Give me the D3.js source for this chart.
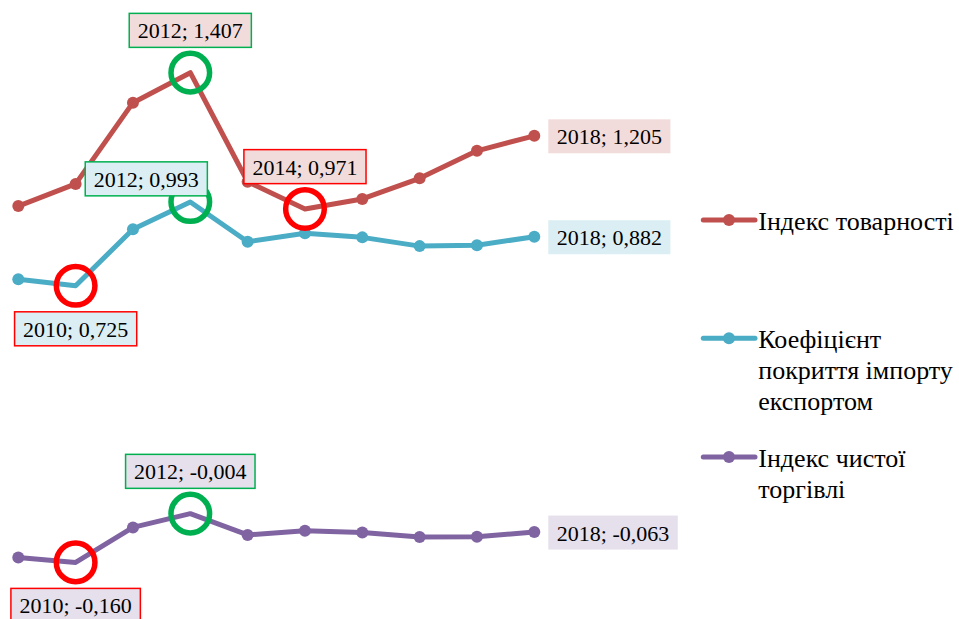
<!DOCTYPE html>
<html>
<head>
<meta charset="utf-8">
<script src="https://cdn.jsdelivr.net/npm/d3@7/dist/d3.min.js"></script>
</head>
<body style="margin:0;background:#fff">
<div class="chart"></div>
<script>
// Years and series values
let years = [2009, 2010, 2011, 2012, 2013, 2014, 2015, 2016, 2017, 2018];
let commodityIndex = [0.980, 1.051, 1.311, 1.407, 1.058, 0.971, 1.003, 1.069, 1.157, 1.205];
let coverageRatio = [0.746, 0.725, 0.906, 0.993, 0.866, 0.893, 0.880, 0.852, 0.855, 0.882];
let netTradeIndex = [-0.144, -0.160, -0.048, -0.004, -0.072, -0.059, -0.064, -0.079, -0.078, -0.063];

let seriesNames = ["Індекс товарності", "Коефіцієнт покриття імпорту експортом", "Індекс чистої торгівлі"];

let svgWidth = 959;
let svgHeight = 619;
let fontFamily = "'Liberation Serif', 'Times New Roman', Times, serif";

let colors = ["#c0504d", "#4bacc6", "#8064a2"];
let labelFills = ["#f2dcdb", "#dbeef4", "#e5e0ec"];
let maxColor = "#00b050";
let minColor = "#ff0000";

let series = [
  { name: seriesNames[0], values: commodityIndex, color: colors[0], fill: labelFills[0] },
  { name: seriesNames[1], values: coverageRatio, color: colors[1], fill: labelFills[1] },
  { name: seriesNames[2], values: netTradeIndex, color: colors[2], fill: labelFills[2] }
];

// callouts: series index, year, ring colour (or none), label placement
let callouts = [
  { s: 0, year: 2012, ring: maxColor, place: "above" },
  { s: 0, year: 2014, ring: minColor, place: "above" },
  { s: 0, year: 2018, ring: null, place: "right" },
  { s: 1, year: 2012, ring: maxColor, place: "aboveLeft" },
  { s: 1, year: 2010, ring: minColor, place: "below" },
  { s: 1, year: 2018, ring: null, place: "right" },
  { s: 2, year: 2012, ring: maxColor, place: "above" },
  { s: 2, year: 2010, ring: minColor, place: "below" },
  { s: 2, year: 2018, ring: null, place: "right" }
];

let svg = d3.select(".chart")
  .append("svg")
  .attr("width", svgWidth)
  .attr("height", svgHeight);

let x = d3.scaleLinear()
  .domain([2009, 2018])
  .range([18.3, 534.3]);

let y = d3.scaleLinear()
  .domain([-0.2, 1.5])
  .range([574.9, 43.6]);

let line = d3.line()
  .x((d, i) => x(years[i]))
  .y(d => y(d));

let fmt = v => d3.format(".3f")(v).replace(".", ",").replace("−", "-");

let ringed = new Set(callouts.filter(c => c.ring).map(c => c.s + "_" + c.year));

function styleText(sel, size) {
  return sel.style("font-family", fontFamily)
    .style("font-size", size)
    .style("fill", "#000");
}

// lines
let seriesGroup = svg.append("g");
series.forEach(function (s, si) {
  seriesGroup.append("path")
    .datum(s.values)
    .attr("d", line)
    .attr("fill", "none")
    .attr("stroke", s.color)
    .attr("stroke-width", 5)
    .attr("stroke-linejoin", "round");

  seriesGroup.selectAll(null)
    .data(s.values.map((v, i) => ({ v: v, year: years[i] })).filter(d => !ringed.has(si + "_" + d.year)))
    .enter()
    .append("circle")
    .attr("cx", d => x(d.year))
    .attr("cy", d => y(d.v))
    .attr("r", 6)
    .attr("fill", s.color);
});

// rings on max / min points
svg.append("g").selectAll("circle")
  .data(callouts.filter(c => c.ring))
  .enter()
  .append("circle")
  .attr("cx", d => x(d.year))
  .attr("cy", d => y(series[d.s].values[years.indexOf(d.year)]))
  .attr("r", 19.3)
  .attr("fill", "none")
  .attr("stroke", d => d.ring)
  .attr("stroke-width", 5.5);

// data labels
let labelGroup = svg.append("g");
callouts.forEach(function (c) {
  let v = series[c.s].values[years.indexOf(c.year)];
  let px = x(c.year), py = y(v);
  let g = labelGroup.append("g");
  let rect = g.append("rect");
  let t = styleText(g.append("text"), "22px").text(c.year + "; " + fmt(v));
  let tw = t.node().getComputedTextLength();
  let bw = tw + 17, bh = 34;
  let cx, cy;
  if (c.place === "above") { cx = px; cy = py - 42.3; }
  else if (c.place === "below") { cx = px; cy = py + 43; }
  else if (c.place === "aboveLeft") { cx = px - 44; cy = py - 23.2; }
  else { cx = px + 14 + bw / 2; cy = py + 0.5; }
  rect.attr("x", cx - bw / 2)
    .attr("y", cy - bh / 2)
    .attr("width", bw)
    .attr("height", bh)
    .attr("fill", series[c.s].fill)
    .attr("stroke", c.ring ? c.ring : "none")
    .attr("stroke-width", 1.5);
  t.attr("x", cx)
    .attr("y", cy + 8)
    .attr("text-anchor", "middle");
});

// legend
let legendItems = [
  { lines: ["Індекс товарності"], y: 220 },
  { lines: ["Коефіцієнт", "покриття імпорту", "експортом"], y: 338.3 },
  { lines: ["Індекс чистої", "торгівлі"], y: 457 }
];
let legend = svg.append("g");
legendItems.forEach(function (item, i) {
  let g = legend.append("g").attr("transform", `translate(0, ${item.y})`);
  g.append("line")
    .attr("x1", 703.3).attr("x2", 755)
    .attr("y1", 0).attr("y2", 0)
    .attr("stroke", colors[i])
    .attr("stroke-width", 5)
    .attr("stroke-linecap", "round");
  g.append("circle")
    .attr("cx", 729).attr("cy", 0).attr("r", 6)
    .attr("fill", colors[i]);
  let t = styleText(g.append("text"), "26px").attr("x", 758.3).attr("y", 9.5);
  item.lines.forEach(function (l, k) {
    t.append("tspan").attr("x", 758.3).attr("dy", k === 0 ? 0 : 31).text(l);
  });
});
</script>
</body>
</html>
